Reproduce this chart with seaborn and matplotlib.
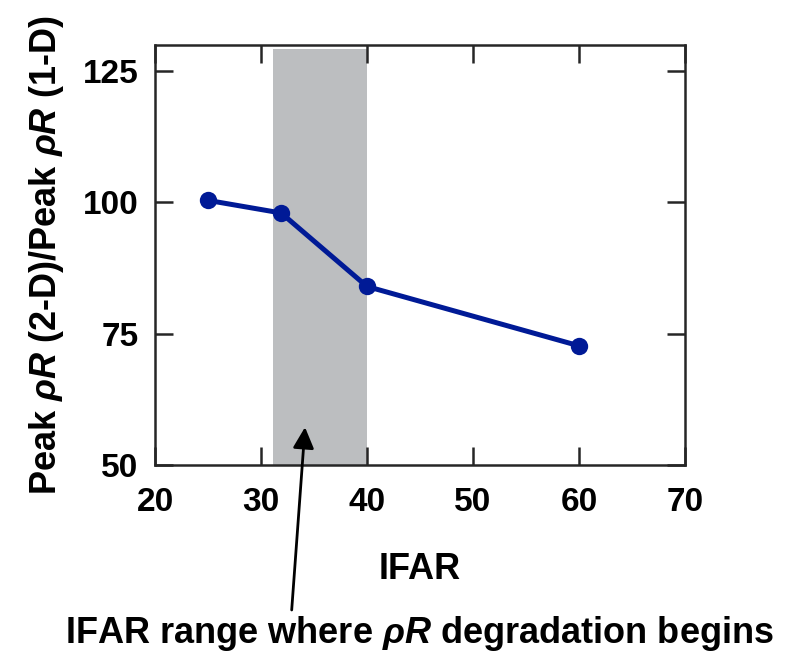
import matplotlib
matplotlib.use("Agg")
import matplotlib.pyplot as plt
import seaborn as sns
import pandas as pd

# IFAR vs. ratio of peak areal density (2-D / 1-D), in percent
ifar = [25, 31.9, 40, 60]
ratio = [100.4, 98.0, 84.0, 72.7]
band = (31.1, 40.0)
x_ticks = [20, 30, 40, 50, 60, 70]
y_ticks = [50, 75, 100, 125]

sns.set_theme(style="ticks")
plt.rcParams["font.family"] = ["Liberation Sans", "DejaVu Sans"]
plt.rcParams["font.weight"] = "bold"
plt.rcParams["text.color"] = "black"
plt.rcParams["axes.labelcolor"] = "black"
plt.rcParams["xtick.color"] = "black"
plt.rcParams["ytick.color"] = "black"
plt.rcParams["mathtext.fontset"] = "custom"
plt.rcParams["mathtext.it"] = "Liberation Sans:bold:italic"
plt.rcParams["mathtext.rm"] = "Liberation Sans:bold"
plt.rcParams["mathtext.bf"] = "Liberation Sans:bold"

df = pd.DataFrame({"IFAR": ifar, "ratio": ratio})

fig = plt.figure(figsize=(7.89, 6.51), dpi=100)
ax = fig.add_axes([0.1965, 0.2857, 0.6717, 0.6452])

ax.axvspan(band[0], band[1], ymin=0, ymax=0.99, color="#bcbec0", lw=0, zorder=0)

sns.lineplot(data=df, x="IFAR", y="ratio", ax=ax, color="#001a96",
             linewidth=3.6, marker="o", markersize=12.5, markeredgewidth=0,
             zorder=3)

ax.set_xlim(20, 70)
ax.set_ylim(50, 130)
ax.set_xticks(x_ticks)
ax.set_yticks(y_ticks)
ax.tick_params(direction="in", length=13, width=1.8, top=True, right=True,
               labelsize=24, pad=12)
ax.tick_params(axis="x", pad=16, color="#262626")
ax.tick_params(axis="y", color="#262626")
for lab in ax.get_xticklabels() + ax.get_yticklabels():
    lab.set_fontweight("bold")
for s in ax.spines.values():
    s.set_linewidth(1.8)
    s.set_color("#262626")

ax.set_xlabel("IFAR", fontsize=26, fontweight="bold", labelpad=24)
ax.set_ylabel(r"Peak $\rho R$ (2-D)/Peak $\rho R$ (1-D)", fontsize=26,
              fontweight="bold", labelpad=12)

# arrow pointing into the shaded IFAR range
ax.annotate("", xy=(34.15, 57.2), xycoords="data",
            xytext=(0.3697, 0.063), textcoords=fig.transFigure,
            annotation_clip=False,
            arrowprops=dict(arrowstyle="-|>", color="black", lw=2,
                            mutation_scale=32, shrinkA=0, shrinkB=0))
fig.text(0.532, 0.0276, r"IFAR range where $\rho R$ degradation begins",
         ha="center", va="center", fontsize=26, fontweight="bold")

fig.savefig("out.png", dpi=100)
